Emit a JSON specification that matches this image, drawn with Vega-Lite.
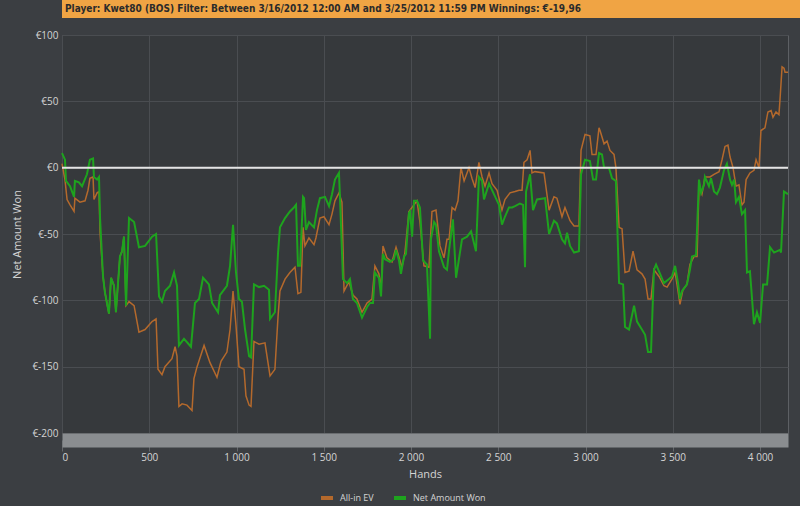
{
  "$schema": "https://vega.github.io/schema/vega-lite/v6.json",
  "background": "#3b3e42",
  "padding": 0,
  "spacing": 11,
  "datasets": {
    "ev": [
      {"hand": 0, "amount": 3}, {"hand": 17, "amount": -9}, {"hand": 29, "amount": -24}, {"hand": 46, "amount": -28}, {"hand": 69, "amount": -33}, {"hand": 74, "amount": -23}, {"hand": 103, "amount": -26}, {"hand": 132, "amount": -25}, {"hand": 149, "amount": -17}, {"hand": 160, "amount": -8}, {"hand": 178, "amount": -7}, {"hand": 183, "amount": -24}, {"hand": 201, "amount": -19}, {"hand": 212, "amount": -18}, {"hand": 218, "amount": -49}, {"hand": 235, "amount": -82}, {"hand": 246, "amount": -94}, {"hand": 269, "amount": -110}, {"hand": 281, "amount": -83}, {"hand": 298, "amount": -89}, {"hand": 309, "amount": -109}, {"hand": 332, "amount": -67}, {"hand": 344, "amount": -63}, {"hand": 355, "amount": -52}, {"hand": 367, "amount": -104}, {"hand": 384, "amount": -101}, {"hand": 413, "amount": -104}, {"hand": 441, "amount": -124}, {"hand": 476, "amount": -122}, {"hand": 516, "amount": -116}, {"hand": 539, "amount": -114}, {"hand": 550, "amount": -152}, {"hand": 573, "amount": -156}, {"hand": 590, "amount": -150}, {"hand": 630, "amount": -144}, {"hand": 648, "amount": -135}, {"hand": 659, "amount": -142}, {"hand": 670, "amount": -180}, {"hand": 688, "amount": -178}, {"hand": 716, "amount": -179}, {"hand": 745, "amount": -183}, {"hand": 756, "amount": -159}, {"hand": 774, "amount": -150}, {"hand": 814, "amount": -134}, {"hand": 848, "amount": -147}, {"hand": 888, "amount": -158}, {"hand": 911, "amount": -146}, {"hand": 945, "amount": -139}, {"hand": 963, "amount": -122}, {"hand": 980, "amount": -93}, {"hand": 997, "amount": -119}, {"hand": 1014, "amount": -150}, {"hand": 1043, "amount": -152}, {"hand": 1054, "amount": -172}, {"hand": 1072, "amount": -179}, {"hand": 1083, "amount": -180}, {"hand": 1100, "amount": -131}, {"hand": 1129, "amount": -133}, {"hand": 1163, "amount": -132}, {"hand": 1192, "amount": -157}, {"hand": 1220, "amount": -152}, {"hand": 1238, "amount": -112}, {"hand": 1249, "amount": -93}, {"hand": 1278, "amount": -84}, {"hand": 1306, "amount": -79}, {"hand": 1335, "amount": -75}, {"hand": 1352, "amount": -95}, {"hand": 1369, "amount": -94}, {"hand": 1381, "amount": -45}, {"hand": 1392, "amount": -59}, {"hand": 1415, "amount": -53}, {"hand": 1444, "amount": -58}, {"hand": 1455, "amount": -53}, {"hand": 1478, "amount": -38}, {"hand": 1501, "amount": -37}, {"hand": 1530, "amount": -43}, {"hand": 1547, "amount": -35}, {"hand": 1564, "amount": -25}, {"hand": 1587, "amount": -19}, {"hand": 1604, "amount": -26}, {"hand": 1616, "amount": -93}, {"hand": 1644, "amount": -86}, {"hand": 1667, "amount": -96}, {"hand": 1690, "amount": -99}, {"hand": 1719, "amount": -109}, {"hand": 1748, "amount": -102}, {"hand": 1776, "amount": -99}, {"hand": 1793, "amount": -74}, {"hand": 1816, "amount": -80}, {"hand": 1828, "amount": -92}, {"hand": 1839, "amount": -59}, {"hand": 1862, "amount": -68}, {"hand": 1891, "amount": -71}, {"hand": 1914, "amount": -60}, {"hand": 1948, "amount": -75}, {"hand": 1965, "amount": -64}, {"hand": 1988, "amount": -33}, {"hand": 2034, "amount": -25}, {"hand": 2051, "amount": -41}, {"hand": 2074, "amount": -74}, {"hand": 2103, "amount": -75}, {"hand": 2114, "amount": -47}, {"hand": 2120, "amount": -33}, {"hand": 2143, "amount": -32}, {"hand": 2166, "amount": -59}, {"hand": 2189, "amount": -68}, {"hand": 2206, "amount": -54}, {"hand": 2218, "amount": -54}, {"hand": 2235, "amount": -30}, {"hand": 2252, "amount": -32}, {"hand": 2269, "amount": -25}, {"hand": 2286, "amount": 0}, {"hand": 2304, "amount": -10}, {"hand": 2332, "amount": 0}, {"hand": 2349, "amount": -8}, {"hand": 2367, "amount": -15}, {"hand": 2389, "amount": 4}, {"hand": 2407, "amount": -7}, {"hand": 2424, "amount": -14}, {"hand": 2447, "amount": -4}, {"hand": 2464, "amount": -12}, {"hand": 2493, "amount": -17}, {"hand": 2521, "amount": -32}, {"hand": 2538, "amount": -24}, {"hand": 2567, "amount": -19}, {"hand": 2596, "amount": -18}, {"hand": 2619, "amount": -17}, {"hand": 2636, "amount": -17}, {"hand": 2647, "amount": 4}, {"hand": 2665, "amount": 6}, {"hand": 2682, "amount": 13}, {"hand": 2693, "amount": -4}, {"hand": 2710, "amount": -3}, {"hand": 2762, "amount": -4}, {"hand": 2791, "amount": -32}, {"hand": 2819, "amount": -22}, {"hand": 2836, "amount": -23}, {"hand": 2865, "amount": -37}, {"hand": 2882, "amount": -30}, {"hand": 2911, "amount": -40}, {"hand": 2934, "amount": -44}, {"hand": 2962, "amount": -44}, {"hand": 2974, "amount": 13}, {"hand": 2997, "amount": 25}, {"hand": 3025, "amount": 24}, {"hand": 3037, "amount": 10}, {"hand": 3060, "amount": 10}, {"hand": 3077, "amount": 30}, {"hand": 3083, "amount": 28}, {"hand": 3106, "amount": 18}, {"hand": 3123, "amount": 20}, {"hand": 3140, "amount": 13}, {"hand": 3163, "amount": 10}, {"hand": 3174, "amount": 0}, {"hand": 3192, "amount": -45}, {"hand": 3209, "amount": -46}, {"hand": 3226, "amount": -79}, {"hand": 3249, "amount": -78}, {"hand": 3272, "amount": -63}, {"hand": 3295, "amount": -77}, {"hand": 3323, "amount": -80}, {"hand": 3341, "amount": -84}, {"hand": 3358, "amount": -99}, {"hand": 3375, "amount": -99}, {"hand": 3392, "amount": -77}, {"hand": 3421, "amount": -82}, {"hand": 3449, "amount": -89}, {"hand": 3467, "amount": -90}, {"hand": 3495, "amount": -84}, {"hand": 3513, "amount": -79}, {"hand": 3530, "amount": -93}, {"hand": 3541, "amount": -103}, {"hand": 3558, "amount": -92}, {"hand": 3581, "amount": -88}, {"hand": 3598, "amount": -73}, {"hand": 3621, "amount": -67}, {"hand": 3639, "amount": -67}, {"hand": 3650, "amount": -14}, {"hand": 3667, "amount": -20}, {"hand": 3684, "amount": -7}, {"hand": 3713, "amount": -7}, {"hand": 3736, "amount": -5}, {"hand": 3765, "amount": -3}, {"hand": 3782, "amount": 6}, {"hand": 3799, "amount": 16}, {"hand": 3816, "amount": 17}, {"hand": 3828, "amount": 8}, {"hand": 3845, "amount": 0}, {"hand": 3862, "amount": -14}, {"hand": 3879, "amount": -13}, {"hand": 3896, "amount": -28}, {"hand": 3908, "amount": -26}, {"hand": 3920, "amount": -9}, {"hand": 3942, "amount": -4}, {"hand": 3965, "amount": -2}, {"hand": 3977, "amount": 6}, {"hand": 3994, "amount": 0}, {"hand": 4005, "amount": 28}, {"hand": 4028, "amount": 30}, {"hand": 4045, "amount": 42}, {"hand": 4063, "amount": 43}, {"hand": 4074, "amount": 38}, {"hand": 4091, "amount": 42}, {"hand": 4108, "amount": 40}, {"hand": 4114, "amount": 51}, {"hand": 4126, "amount": 76}, {"hand": 4137, "amount": 75}, {"hand": 4143, "amount": 72}, {"hand": 4160, "amount": 72}
    ],
    "won": [
      {"hand": 0, "amount": 11}, {"hand": 17, "amount": 6}, {"hand": 23, "amount": -10}, {"hand": 46, "amount": -14}, {"hand": 69, "amount": -22}, {"hand": 74, "amount": -10}, {"hand": 97, "amount": -11}, {"hand": 115, "amount": -14}, {"hand": 143, "amount": -5}, {"hand": 160, "amount": 6}, {"hand": 178, "amount": 7}, {"hand": 183, "amount": -7}, {"hand": 201, "amount": -9}, {"hand": 212, "amount": -7}, {"hand": 218, "amount": -38}, {"hand": 235, "amount": -82}, {"hand": 246, "amount": -94}, {"hand": 269, "amount": -110}, {"hand": 281, "amount": -83}, {"hand": 298, "amount": -89}, {"hand": 309, "amount": -109}, {"hand": 332, "amount": -67}, {"hand": 344, "amount": -63}, {"hand": 355, "amount": -52}, {"hand": 367, "amount": -104}, {"hand": 384, "amount": -38}, {"hand": 413, "amount": -41}, {"hand": 441, "amount": -60}, {"hand": 476, "amount": -59}, {"hand": 516, "amount": -52}, {"hand": 539, "amount": -50}, {"hand": 556, "amount": -97}, {"hand": 573, "amount": -101}, {"hand": 590, "amount": -93}, {"hand": 619, "amount": -89}, {"hand": 642, "amount": -79}, {"hand": 659, "amount": -89}, {"hand": 670, "amount": -134}, {"hand": 699, "amount": -129}, {"hand": 739, "amount": -135}, {"hand": 762, "amount": -102}, {"hand": 785, "amount": -99}, {"hand": 808, "amount": -83}, {"hand": 842, "amount": -88}, {"hand": 860, "amount": -102}, {"hand": 894, "amount": -109}, {"hand": 905, "amount": -96}, {"hand": 945, "amount": -89}, {"hand": 963, "amount": -74}, {"hand": 980, "amount": -43}, {"hand": 997, "amount": -79}, {"hand": 1014, "amount": -99}, {"hand": 1031, "amount": -101}, {"hand": 1049, "amount": -122}, {"hand": 1072, "amount": -142}, {"hand": 1083, "amount": -143}, {"hand": 1100, "amount": -88}, {"hand": 1129, "amount": -90}, {"hand": 1158, "amount": -89}, {"hand": 1186, "amount": -92}, {"hand": 1192, "amount": -114}, {"hand": 1220, "amount": -109}, {"hand": 1238, "amount": -64}, {"hand": 1249, "amount": -45}, {"hand": 1278, "amount": -38}, {"hand": 1306, "amount": -33}, {"hand": 1329, "amount": -30}, {"hand": 1341, "amount": -28}, {"hand": 1352, "amount": -74}, {"hand": 1364, "amount": -74}, {"hand": 1381, "amount": -22}, {"hand": 1387, "amount": -23}, {"hand": 1398, "amount": -47}, {"hand": 1415, "amount": -41}, {"hand": 1444, "amount": -45}, {"hand": 1461, "amount": -32}, {"hand": 1478, "amount": -23}, {"hand": 1507, "amount": -22}, {"hand": 1530, "amount": -29}, {"hand": 1547, "amount": -20}, {"hand": 1564, "amount": -9}, {"hand": 1587, "amount": -4}, {"hand": 1593, "amount": -23}, {"hand": 1610, "amount": -84}, {"hand": 1633, "amount": -87}, {"hand": 1650, "amount": -84}, {"hand": 1667, "amount": -99}, {"hand": 1690, "amount": -102}, {"hand": 1719, "amount": -113}, {"hand": 1748, "amount": -105}, {"hand": 1765, "amount": -102}, {"hand": 1782, "amount": -102}, {"hand": 1793, "amount": -79}, {"hand": 1816, "amount": -83}, {"hand": 1828, "amount": -97}, {"hand": 1839, "amount": -65}, {"hand": 1851, "amount": -69}, {"hand": 1879, "amount": -71}, {"hand": 1902, "amount": -69}, {"hand": 1914, "amount": -62}, {"hand": 1931, "amount": -70}, {"hand": 1942, "amount": -80}, {"hand": 1960, "amount": -67}, {"hand": 1971, "amount": -65}, {"hand": 1988, "amount": -34}, {"hand": 1994, "amount": -33}, {"hand": 2006, "amount": -52}, {"hand": 2017, "amount": -25}, {"hand": 2034, "amount": -25}, {"hand": 2051, "amount": -30}, {"hand": 2069, "amount": -70}, {"hand": 2091, "amount": -73}, {"hand": 2109, "amount": -129}, {"hand": 2114, "amount": -54}, {"hand": 2132, "amount": -41}, {"hand": 2143, "amount": -43}, {"hand": 2160, "amount": -63}, {"hand": 2189, "amount": -75}, {"hand": 2206, "amount": -77}, {"hand": 2218, "amount": -62}, {"hand": 2240, "amount": -39}, {"hand": 2258, "amount": -83}, {"hand": 2292, "amount": -54}, {"hand": 2321, "amount": -52}, {"hand": 2344, "amount": -48}, {"hand": 2372, "amount": -63}, {"hand": 2389, "amount": -7}, {"hand": 2407, "amount": -10}, {"hand": 2418, "amount": -24}, {"hand": 2447, "amount": -12}, {"hand": 2475, "amount": -20}, {"hand": 2504, "amount": -28}, {"hand": 2521, "amount": -43}, {"hand": 2538, "amount": -37}, {"hand": 2561, "amount": -30}, {"hand": 2579, "amount": -30}, {"hand": 2596, "amount": -29}, {"hand": 2624, "amount": -27}, {"hand": 2642, "amount": -28}, {"hand": 2653, "amount": -75}, {"hand": 2659, "amount": -18}, {"hand": 2682, "amount": -5}, {"hand": 2699, "amount": -32}, {"hand": 2722, "amount": -24}, {"hand": 2768, "amount": -23}, {"hand": 2791, "amount": -50}, {"hand": 2819, "amount": -40}, {"hand": 2836, "amount": -42}, {"hand": 2865, "amount": -54}, {"hand": 2882, "amount": -57}, {"hand": 2894, "amount": -49}, {"hand": 2911, "amount": -59}, {"hand": 2934, "amount": -64}, {"hand": 2962, "amount": -63}, {"hand": 2974, "amount": -5}, {"hand": 2997, "amount": 6}, {"hand": 3025, "amount": 5}, {"hand": 3043, "amount": -9}, {"hand": 3060, "amount": -9}, {"hand": 3077, "amount": 11}, {"hand": 3094, "amount": 10}, {"hand": 3106, "amount": 0}, {"hand": 3134, "amount": 0}, {"hand": 3152, "amount": -8}, {"hand": 3174, "amount": -10}, {"hand": 3192, "amount": -87}, {"hand": 3215, "amount": -88}, {"hand": 3226, "amount": -120}, {"hand": 3249, "amount": -122}, {"hand": 3278, "amount": -104}, {"hand": 3295, "amount": -116}, {"hand": 3323, "amount": -122}, {"hand": 3341, "amount": -126}, {"hand": 3358, "amount": -139}, {"hand": 3375, "amount": -139}, {"hand": 3392, "amount": -77}, {"hand": 3404, "amount": -73}, {"hand": 3427, "amount": -80}, {"hand": 3449, "amount": -87}, {"hand": 3478, "amount": -84}, {"hand": 3495, "amount": -82}, {"hand": 3513, "amount": -74}, {"hand": 3530, "amount": -87}, {"hand": 3541, "amount": -99}, {"hand": 3553, "amount": -93}, {"hand": 3581, "amount": -88}, {"hand": 3598, "amount": -77}, {"hand": 3610, "amount": -67}, {"hand": 3633, "amount": -66}, {"hand": 3650, "amount": -9}, {"hand": 3662, "amount": -19}, {"hand": 3679, "amount": -13}, {"hand": 3684, "amount": -7}, {"hand": 3707, "amount": -14}, {"hand": 3719, "amount": -8}, {"hand": 3736, "amount": -18}, {"hand": 3753, "amount": -20}, {"hand": 3770, "amount": -15}, {"hand": 3793, "amount": -2}, {"hand": 3810, "amount": 3}, {"hand": 3828, "amount": -9}, {"hand": 3839, "amount": -13}, {"hand": 3851, "amount": -9}, {"hand": 3862, "amount": -26}, {"hand": 3879, "amount": -22}, {"hand": 3896, "amount": -35}, {"hand": 3914, "amount": -32}, {"hand": 3925, "amount": -79}, {"hand": 3942, "amount": -78}, {"hand": 3965, "amount": -118}, {"hand": 3982, "amount": -109}, {"hand": 4000, "amount": -117}, {"hand": 4017, "amount": -88}, {"hand": 4040, "amount": -88}, {"hand": 4057, "amount": -60}, {"hand": 4080, "amount": -64}, {"hand": 4114, "amount": -62}, {"hand": 4120, "amount": -64}, {"hand": 4137, "amount": -18}, {"hand": 4160, "amount": -20}
    ]
  },
  "vconcat": [
    {
      "width": 800,
      "height": 18,
      "view": {"fill": "#f0a444", "stroke": null},
      "title": {
        "text": "Player: Kwet80 (BOS)  Filter: Between 3/16/2012 12:00 AM and 3/25/2012 11:59 PM  Winnings: €-19,96",
        "anchor": "start",
        "frame": "group",
        "offset": -14,
        "dx": 3,
        "font": "Liberation Sans Narrow, DejaVu Sans Condensed, sans-serif",
        "fontSize": 10,
        "fontWeight": "bold",
        "color": "#2b2b2b"
      },
      "data": {"values": []},
      "mark": "point",
      "encoding": {}
    },
    {
      "width": 726,
      "height": 398,
      "view": {"fill": "#36393c", "stroke": "#5d6064"},
      "layer": [
        {
          "data": {"name": "ev"},
          "mark": {"type": "line", "strokeWidth": 1.5},
          "encoding": {
            "x": {
              "field": "hand", "type": "quantitative",
              "scale": {"domain": [0, 4160], "nice": false, "zero": false},
              "axis": {
                "title": "Hands",
                "values": [0, 500, 1000, 1500, 2000, 2500, 3000, 3500, 4000],
                "labelExpr": "replace(format(datum.value, ','), ',', ' ')",
                "offset": 7,
                "domainWidth": 14,
                "domainColor": "#8a8d90",
                "tickSize": 11,
                "tickColor": "#63666a",
                "labelPadding": 1,
                "titlePadding": 6
              }
            },
            "y": {
              "field": "amount", "type": "quantitative",
              "scale": {"domain": [-200, 100], "nice": false},
              "axis": {
                "title": "Net Amount Won",
                "values": [-200, -150, -100, -50, 0, 50, 100],
                "labelExpr": "'€' + datum.value",
                "minExtent": 61,
                "maxExtent": 61,
                "titleX": -40,
                "ticks": false,
                "domain": false,
                "labelPadding": 4
              }
            },
            "color": {
              "datum": "All-in EV",
              "scale": {"domain": ["All-in EV", "Net Amount Won"], "range": ["#b4692c", "#1ea31e"]},
              "legend": {"orient": "none", "direction": "horizontal", "legendX": 257, "legendY": 490, "title": null}
            }
          }
        },
        {
          "data": {"name": "won"},
          "mark": {"type": "line", "strokeWidth": 2},
          "encoding": {
            "x": {"field": "hand", "type": "quantitative"},
            "y": {"field": "amount", "type": "quantitative"},
            "color": {"datum": "Net Amount Won"}
          }
        },
        {
          "data": {"values": [{}]},
          "mark": {"type": "rule", "color": "#e4e4e4", "strokeWidth": 2},
          "encoding": {"y": {"datum": 0}}
        }
      ]
    }
  ],
  "config": {
    "axis": {
      "labelColor": "#d4d4d4",
      "labelFont": "Open Sans",
      "labelFontSize": 10,
      "titleColor": "#d4d4d4",
      "titleFont": "Open Sans",
      "titleFontSize": 11,
      "titleFontWeight": "normal",
      "gridColor": "#4a4d51"
    },
    "legend": {
      "labelColor": "#d4d4d4",
      "labelFont": "Open Sans",
      "labelFontSize": 9,
      "labelOffset": 5,
      "symbolType": "stroke",
      "symbolStrokeWidth": 4,
      "symbolSize": 144,
      "columnPadding": 12
    }
  }
}
